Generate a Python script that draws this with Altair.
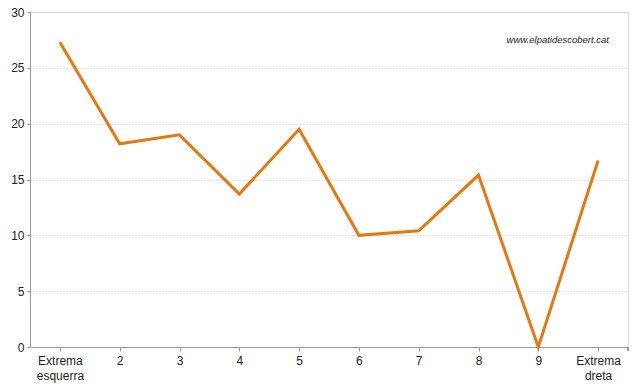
import altair as alt
import pandas as pd

categories = ["Extrema esquerra", "2", "3", "4", "5", "6", "7", "8", "9", "Extrema dreta"]
values = [27.3, 18.2, 19.0, 13.7, 19.5, 10.0, 10.4, 15.4, 0.0, 16.7]
y_ticks = [0, 5, 10, 15, 20, 25, 30]
watermark = "www.elpatidescobert.cat"

df = pd.DataFrame({"cat": categories, "val": values})

W, H = 598, 335
FONT = "Liberation Sans"

x_enc = alt.X(
    "cat:N", sort=categories, title=None,
    scale=alt.Scale(paddingInner=0, paddingOuter=0),
    axis=alt.Axis(
        labelAngle=0, labelExpr="split(datum.label, ' ')",
        bandPosition=0, tickSize=4, tickColor="#999999",
        domainColor="#999999", labelColor="#222222", labelFontSize=12,
        labelFont=FONT, labelPadding=4, labelLineHeight=15, grid=False,
        labelBaseline="top",
    ),
)
y_enc = alt.Y(
    "val:Q", title=None,
    scale=alt.Scale(domain=[0, 30], nice=False),
    axis=alt.Axis(
        values=y_ticks, tickSize=3, tickColor="#999999", domainColor="#999999",
        labelColor="#222222", labelFontSize=12, labelFont=FONT, labelPadding=3,
        grid=True, gridColor="#c8c8c8", gridDash=[1, 2], gridWidth=1,
    ),
)

line = alt.Chart(df).mark_line(color="#E8770F", strokeWidth=3, strokeJoin="miter").encode(x=x_enc, y=y_enc)

end_tick = alt.Chart(df).mark_rule(color="#999999").encode(
    x=alt.value(W), y=alt.value(H), y2=alt.value(H + 4)
)

wm = alt.Chart(pd.DataFrame({"t": [watermark]})).mark_text(
    align="right", baseline="middle", fontStyle="italic", fontSize=9.5,
    font=FONT, color="#222222",
).encode(x=alt.value(579), y=alt.value(28), text="t:N")

chart = alt.layer(line, end_tick, wm).properties(
    width=W, height=H,
    autosize=alt.AutoSizeParams(type="none"),
    padding={"left": 30, "top": 12, "right": 12, "bottom": 43},
).configure_view(stroke=None).configure(background="white")

chart.save("out.html", embed_options={"renderer": "svg", "actions": False})
